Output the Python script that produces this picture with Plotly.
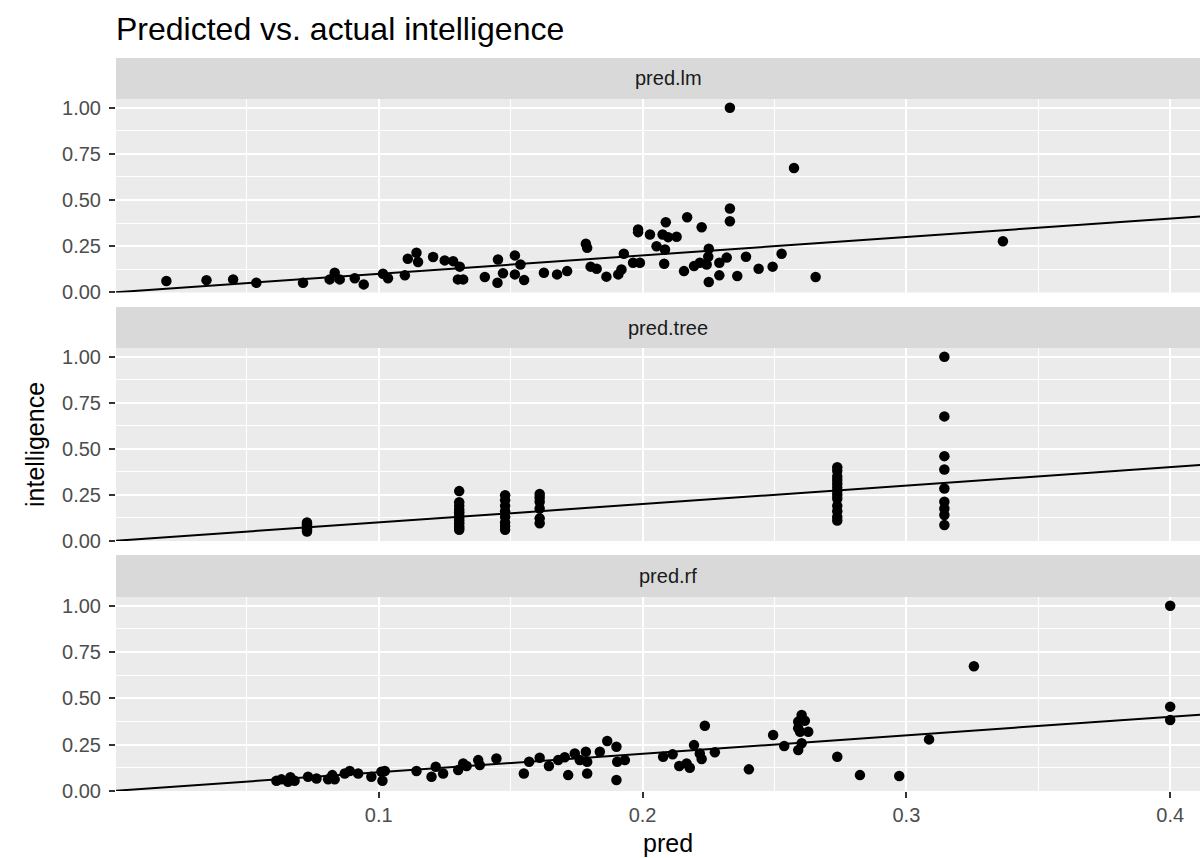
import plotly.graph_objects as go

# ---------------- data ----------------
panels = ["pred.lm", "pred.tree", "pred.rf"]

lm_pred = [0.0195, 0.0347, 0.0448, 0.0536, 0.0713, 0.0814, 0.0833, 0.0852, 0.0909, 0.0943,
           0.1016, 0.1035, 0.1099, 0.1110, 0.1143, 0.1149, 0.1206, 0.1250, 0.1282, 0.1307,
           0.1300, 0.1320, 0.1402, 0.1452, 0.1450, 0.1471, 0.1516, 0.1537, 0.1516, 0.1551,
           0.1626, 0.1676, 0.1714, 0.1785, 0.1790, 0.1803, 0.1826, 0.1863, 0.1908, 0.1920,
           0.1929, 0.1964, 0.1990, 0.1983, 0.1983, 0.2028, 0.2088, 0.2076, 0.2097, 0.2053,
           0.2085, 0.2082, 0.2129, 0.2169, 0.2157, 0.2224, 0.2195, 0.2217, 0.2251, 0.2249,
           0.2243, 0.2251, 0.2291, 0.2291, 0.2319, 0.2331, 0.2331, 0.2331, 0.2574, 0.2359,
           0.2392, 0.2440, 0.2493, 0.2527, 0.2656, 0.3366]
lm_int = [0.061, 0.066, 0.070, 0.052, 0.052, 0.070, 0.106, 0.070, 0.076, 0.043,
          0.101, 0.076, 0.092, 0.182, 0.214, 0.164, 0.191, 0.173, 0.169, 0.139,
          0.070, 0.070, 0.083, 0.178, 0.052, 0.103, 0.200, 0.151, 0.097, 0.067,
          0.106, 0.097, 0.115, 0.263, 0.241, 0.139, 0.128, 0.085, 0.097, 0.124,
          0.209, 0.160, 0.160, 0.340, 0.326, 0.313, 0.380, 0.313, 0.299, 0.250,
          0.232, 0.155, 0.301, 0.407, 0.115, 0.353, 0.142, 0.160, 0.236, 0.193,
          0.151, 0.056, 0.160, 0.092, 0.188, 0.454, 0.385, 1.000, 0.674, 0.088,
          0.193, 0.128, 0.139, 0.209, 0.083, 0.277]

tree_pred = ([0.0728] * 6 + [0.1305] * 12 + [0.1479] * 8 + [0.1610] * 6
             + [0.2738] * 13 + [0.3144] * 9)
tree_int = ([0.050, 0.060, 0.070, 0.080, 0.090, 0.100]
            + [0.060, 0.070, 0.080, 0.095, 0.110, 0.125, 0.140, 0.155, 0.170, 0.190, 0.210, 0.270]
            + [0.060, 0.080, 0.100, 0.130, 0.160, 0.190, 0.220, 0.248]
            + [0.095, 0.122, 0.176, 0.212, 0.235, 0.254]
            + [0.400, 0.380, 0.350, 0.330, 0.310, 0.290, 0.270, 0.250, 0.230, 0.190, 0.160, 0.130, 0.110]
            + [1.000, 0.676, 0.460, 0.387, 0.284, 0.212, 0.176, 0.140, 0.086])

rf_pred = [0.0612, 0.0631, 0.0656, 0.0665, 0.0681, 0.0732, 0.0764, 0.0808, 0.0824, 0.0833,
           0.0871, 0.0890, 0.0922, 0.0972, 0.1010, 0.1023, 0.1014, 0.1143, 0.1200, 0.1216,
           0.1244, 0.1301, 0.1320, 0.1333, 0.1377, 0.1383, 0.1446, 0.1550, 0.1570, 0.1610,
           0.1645, 0.1680, 0.1705, 0.1718, 0.1743, 0.1762, 0.1785, 0.1790, 0.1790, 0.1838,
           0.1866, 0.1901, 0.1904, 0.1933, 0.1901, 0.2078, 0.2114, 0.2139, 0.2179, 0.2167,
           0.2195, 0.2217, 0.2224, 0.2236, 0.2274, 0.2403, 0.2495, 0.2537, 0.2590, 0.2590,
           0.2603, 0.2615, 0.2590, 0.2597, 0.2628, 0.2603, 0.2738, 0.2824, 0.2973, 0.3086,
           0.3256, 0.4000, 0.4000, 0.4000]
rf_int = [0.054, 0.062, 0.049, 0.073, 0.054, 0.076, 0.067, 0.062, 0.085, 0.062,
          0.094, 0.107, 0.094, 0.076, 0.103, 0.107, 0.054, 0.107, 0.076, 0.130,
          0.094, 0.112, 0.148, 0.134, 0.166, 0.139, 0.175, 0.094, 0.157, 0.179,
          0.134, 0.166, 0.181, 0.085, 0.202, 0.166, 0.211, 0.157, 0.094, 0.211,
          0.269, 0.238, 0.157, 0.166, 0.058, 0.184, 0.197, 0.134, 0.125, 0.148,
          0.247, 0.202, 0.172, 0.352, 0.208, 0.116, 0.302, 0.242, 0.220, 0.374,
          0.410, 0.379, 0.338, 0.319, 0.319, 0.257, 0.184, 0.085, 0.080, 0.278,
          0.673, 1.000, 0.455, 0.383]

identity_x = [0.0, 0.45]          # reference line intelligence = pred

x_range = [0.0004, 0.4113]
y_range = [-0.001, 1.0475]
y_ticks = [0.0, 0.25, 0.5, 0.75, 1.0]
y_ticktext = ["0.00", "0.25", "0.50", "0.75", "1.00"]
x_ticks = [0.1, 0.2, 0.3, 0.4]
x_ticktext = ["0.1", "0.2", "0.3", "0.4"]

series = [(lm_pred, lm_int), (tree_pred, tree_int), (rf_pred, rf_int)]

# ---------------- layout geometry ----------------
W, H = 1200, 858
L, R, T, B = 116, 0, 58, 67
plot_h = H - T - B


def py2paper(py):
    return (H - B - py) / plot_h


panel_px = [(99, 292.5), (348, 541), (597, 791)]
strip_px = [(58, 99), (307, 348), (555, 597)]

FONT = "Liberation Sans, Arial, Helvetica, sans-serif"
BG = "#EBEBEB"

fig = go.Figure()
layout = dict(
    width=W, height=H,
    margin=dict(l=L, r=R, t=T, b=B),
    paper_bgcolor="white",
    plot_bgcolor=BG,
    showlegend=False,
    font=dict(family=FONT, color="#4D4D4D", size=20),
    title=dict(text="Predicted vs. actual intelligence", x=116 / W, xref="container",
               xanchor="left", y=1 - 29 / H, yref="container", yanchor="middle",
               font=dict(family=FONT, size=32, color="black")),
)

shapes = []
annotations = []
for i, (name, (xs, ys)) in enumerate(zip(panels, series)):
    k = "" if i == 0 else str(i + 1)
    xa, ya = "x" + k, "y" + k
    fig.add_trace(go.Scatter(x=identity_x, y=identity_x, mode="lines",
                             line=dict(color="black", width=2),
                             xaxis=xa, yaxis=ya, hoverinfo="skip"))
    fig.add_trace(go.Scatter(x=xs, y=ys, mode="markers",
                             marker=dict(color="black", size=10.5, line=dict(width=0)),
                             xaxis=xa, yaxis=ya))
    top, bot = panel_px[i]
    last = i == len(panels) - 1
    layout["xaxis" + k] = dict(
        domain=[0, 1], anchor=ya, range=x_range,
        tickvals=x_ticks, ticktext=x_ticktext if last else None,
        showticklabels=last, ticks="outside" if last else "",
        ticklen=6, tickwidth=2, tickcolor="#333333",
        showgrid=True, gridcolor="white", gridwidth=2,
        minor=dict(tickvals=[0.05, 0.15, 0.25, 0.35], showgrid=True,
                   gridcolor="white", gridwidth=1, ticks=""),
        zeroline=False, showline=False,
        tickfont=dict(size=20, color="#4D4D4D"),
        matches=None if i == 0 else "x",
    )
    layout["yaxis" + k] = dict(
        domain=[py2paper(bot), py2paper(top)], anchor=xa, range=y_range,
        tickvals=y_ticks, ticktext=y_ticktext,
        ticks="outside", ticklen=6, tickwidth=2, tickcolor="#333333",
        ticklabelstandoff=4,
        showgrid=True, gridcolor="white", gridwidth=2,
        minor=dict(tickvals=[0.125, 0.375, 0.625, 0.875], showgrid=True,
                   gridcolor="white", gridwidth=1, ticks=""),
        zeroline=False, showline=False,
        tickfont=dict(size=20, color="#4D4D4D"),
    )
    s_top, s_bot = strip_px[i]
    shapes.append(dict(type="rect", xref="paper", yref="paper", x0=0, x1=1.05,
                       y0=py2paper(s_bot), y1=py2paper(s_top),
                       fillcolor="#D9D9D9", line=dict(width=0), layer="below"))
    annotations.append(dict(text=name, xref="paper", yref="paper",
                            x=(668 - L) / (W - L - R), y=py2paper((s_top + s_bot) / 2),
                            xanchor="center", yanchor="middle", showarrow=False,
                            font=dict(family=FONT, size=20, color="#1A1A1A")))

annotations.append(dict(text="pred", xref="paper", yref="paper",
                        x=(668 - L) / (W - L - R), y=py2paper(843),
                        xanchor="center", yanchor="middle", showarrow=False,
                        font=dict(family=FONT, size=25, color="black")))
annotations.append(dict(text="intelligence", xref="paper", yref="paper",
                        x=-(L - 35) / (W - L - R), y=py2paper(445),
                        xanchor="center", yanchor="middle", showarrow=False, textangle=-90,
                        font=dict(family=FONT, size=25, color="black")))

layout["shapes"] = shapes
layout["annotations"] = annotations
fig.update_layout(**layout)
fig.write_html("out.html",
               config={"displayModeBar": False},
               post_script="document.body.style.margin='0';document.body.style.padding='0';"
                           "document.documentElement.style.overflow='hidden';")
